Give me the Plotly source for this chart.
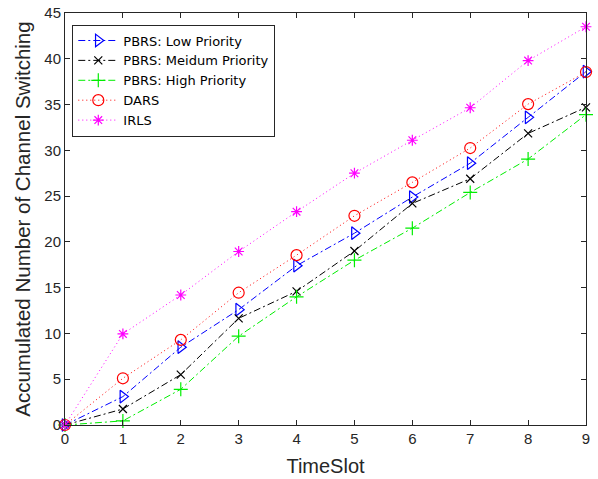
import plotly.graph_objects as go

timeslots = [0, 1, 2, 3, 4, 5, 6, 7, 8, 9]
pbrs_low = [0, 3.1, 8.5, 12.6, 17.4, 20.95, 24.9, 28.6, 33.6, 38.6]
pbrs_medium = [0, 1.75, 5.5, 11.65, 14.6, 19.0, 24.2, 26.9, 31.85, 34.7]
pbrs_high = [0, 0.45, 3.9, 9.7, 14.0, 18.0, 21.5, 25.4, 29.05, 33.9]
dars = [0, 5.1, 9.3, 14.45, 18.55, 22.85, 26.5, 30.25, 35.05, 38.55]
irls = [0, 9.95, 14.2, 18.95, 23.3, 27.5, 31.1, 34.65, 39.8, 43.5]

x_ticks = [0, 1, 2, 3, 4, 5, 6, 7, 8, 9]
y_ticks = [0, 5, 10, 15, 20, 25, 30, 35, 40, 45]

series = [
    ("PBRS: Low Priority", pbrs_low, "#0000ff", "7px,3px,2px,3px", "triangle-right-open", 11),
    ("PBRS: Meidum Priority", pbrs_medium, "#000000", "7px,3px,2px,3px", "x-thin-open", 8),
    ("PBRS: High Priority", pbrs_high, "#00ee00", "7px,3px,2px,3px", "cross-thin-open", 10),
    ("DARS", dars, "#ff0000", "1px,3px", "circle-open", 11),
    ("IRLS", irls, "#ff00ff", "1px,3px", "asterisk-open", 9),
]

fig = go.Figure()
for name, vals, color, dash, sym, size in series:
    fig.add_trace(go.Scatter(
        x=timeslots, y=vals, name=name, mode="lines+markers",
        line=dict(color=color, width=1, dash=dash),
        marker=dict(symbol=sym, size=size, color=color, line=dict(color=color, width=1.2)),
        cliponaxis=False,
    ))

axis_common = dict(
    showline=True, linecolor="#262626", linewidth=1, mirror="ticks",
    ticks="inside", ticklen=5, tickcolor="#262626", showgrid=False, zeroline=False,
    automargin=False,
    tickfont=dict(family="Liberation Sans, Arial, sans-serif", size=15, color="#262626"),
)

fig.update_layout(
    width=598, height=479,
    margin=dict(l=65, r=12, t=13, b=54),
    plot_bgcolor="white", paper_bgcolor="white",
    font=dict(family="Liberation Sans, Arial, sans-serif", color="#262626"),
    xaxis=dict(range=[0, 9], tickvals=x_ticks,
               title=dict(text="TimeSlot", font=dict(size=20), standoff=12), **axis_common),
    yaxis=dict(range=[0, 45], tickvals=y_ticks, **axis_common),
    legend=dict(x=0.014, y=0.972, xanchor="left", yanchor="top",
                bgcolor="white", bordercolor="#262626", borderwidth=1,
                font=dict(family="DejaVu Sans, sans-serif", size=13, color="#000000"),
                tracegroupgap=0, itemwidth=40),
    showlegend=True,
    annotations=[dict(
        text="Accumulated Number of Channel Switching",
        xref="paper", yref="paper", x=-0.083, y=0.5,
        xanchor="center", yanchor="middle", textangle=-90, showarrow=False,
        font=dict(family="Liberation Sans, Arial, sans-serif", size=20.5, color="#262626"),
    )],
)

fig.write_html(
    "out.html",
    config={"displayModeBar": False},
    post_script="document.body.style.margin='0';document.body.style.overflow='hidden';",
)
